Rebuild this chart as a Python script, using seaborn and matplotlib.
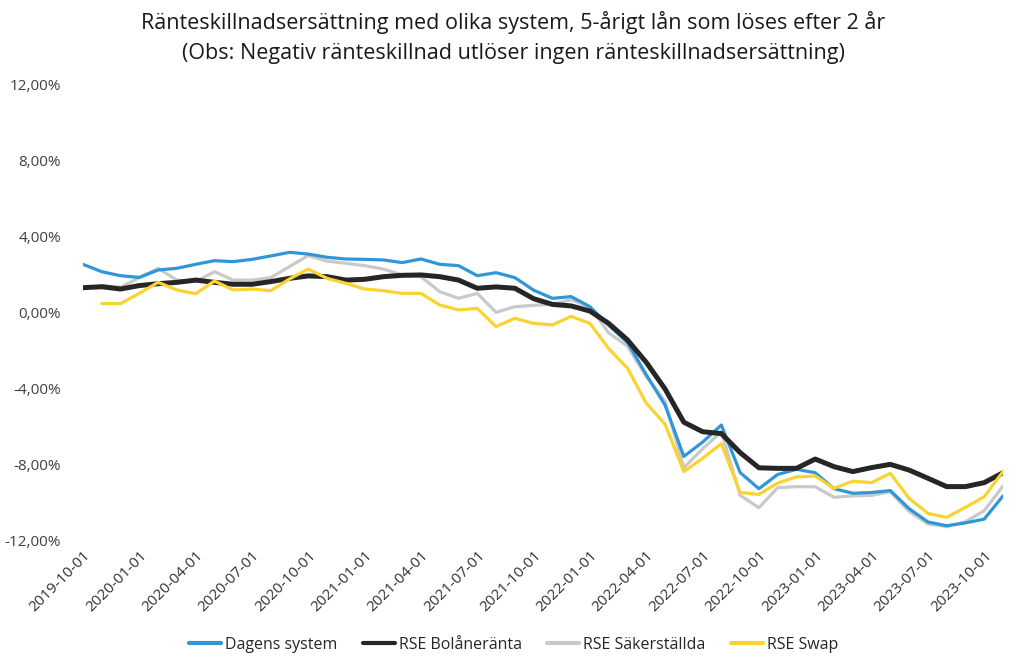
import numpy as np
import pandas as pd
import matplotlib
matplotlib.use("Agg")
import matplotlib.pyplot as plt
import seaborn as sns

# ---- data (monthly, 2019-10 .. 2023-11) ----
months = pd.date_range("2019-10-01", "2023-11-01", freq="MS").strftime("%Y-%m-%d").tolist()

dagens = [2.51, 2.12, 1.91, 1.82, 2.21, 2.30, 2.51, 2.70, 2.65, 2.77,
          2.95, 3.14, 3.05, 2.88, 2.79, 2.77, 2.74, 2.60, 2.79, 2.51,
          2.44, 1.91, 2.07, 1.81, 1.15, 0.72, 0.81, 0.28, -0.70, -1.60,
          -3.30, -4.90, -7.60, -6.85, -5.95, -8.45, -9.30, -8.55, -8.28, -8.46,
          -9.30, -9.54, -9.50, -9.40, -10.35, -11.05, -11.25, -11.10, -10.90, -9.68]

bolan = [1.28, 1.33, 1.21, 1.39, 1.49, 1.56, 1.68, 1.56, 1.46, 1.46,
         1.60, 1.77, 1.90, 1.86, 1.68, 1.72, 1.86, 1.93, 1.95, 1.86,
         1.68, 1.25, 1.32, 1.25, 0.70, 0.40, 0.32, 0.05, -0.60, -1.47,
         -2.65, -4.05, -5.80, -6.30, -6.40, -7.40, -8.20, -8.23, -8.23, -7.74,
         -8.14, -8.40, -8.19, -8.02, -8.32, -8.75, -9.19, -9.19, -8.98, -8.46]

sakerst = [np.nan, 1.39, 1.30, 1.81, 2.30, 1.68, 1.60, 2.12, 1.68, 1.68,
           1.81, 2.39, 2.97, 2.68, 2.56, 2.44, 2.26, 1.95, 1.86, 1.07,
           0.72, 0.98, -0.02, 0.28, 0.35, 0.40, 0.65, 0.25, -1.10, -1.80,
           -3.40, -4.70, -8.20, -7.20, -6.30, -9.65, -10.30, -9.25, -9.19, -9.20,
           -9.75, -9.68, -9.65, -9.46, -10.50, -11.15, -11.30, -11.04, -10.46, -9.16]

swap = [np.nan, 0.44, 0.44, 0.98, 1.56, 1.16, 0.96, 1.63, 1.16, 1.21,
        1.12, 1.74, 2.26, 1.77, 1.51, 1.21, 1.12, 0.98, 0.98, 0.37,
        0.11, 0.19, -0.77, -0.33, -0.60, -0.68, -0.23, -0.60, -1.93, -2.96,
        -4.80, -5.90, -8.40, -7.70, -6.93, -9.50, -9.60, -9.00, -8.68, -8.63,
        -9.28, -8.90, -8.98, -8.49, -9.81, -10.60, -10.81, -10.28, -9.72, -8.40]

series_names = ["Dagens system", "RSE Bolåneränta", "RSE Säkerställda", "RSE Swap"]
colors = ["#2F97D8", "#262626", "#C9C9C9", "#FAD331"]
widths = [2.3, 3.6, 2.3, 2.3]
zorders = [3, 4, 2, 5]
tick_labels = months[0:49:3]

title1 = "Ränteskillnadsersättning med olika system, 5-årigt lån som löses efter 2 år"
title2 = "(Obs: Negativ ränteskillnad utlöser ingen ränteskillnadsersättning)"

# ---- plot ----
sns.set_style("white")
plt.rcParams["font.family"] = ["Open Sans", "DejaVu Sans"]

fig = plt.figure(figsize=(10.17, 6.61), dpi=100)
ax = fig.add_axes([83 / 1017, 121 / 661, 920 / 1017, 456 / 661])

idx = np.arange(len(months))
for name, vals, col, lw, zo in zip(series_names, [dagens, bolan, sakerst, swap], colors, widths, zorders):
    df = pd.DataFrame({"x": idx, "y": np.array(vals, dtype=float) / 100.0})
    df = df.dropna()
    sns.lineplot(data=df, x="x", y="y", ax=ax, color=col, linewidth=lw,
                 label=name, zorder=zo, legend=False)

ax.set_xlim(0, len(months) - 1)
ax.set_ylim(-0.12, 0.12)
yt = np.arange(-0.12, 0.1201, 0.04)
ax.set_yticks(yt)
ax.set_yticklabels([f"{v*100:.2f}".replace(".", ",") + "%" for v in yt],
                   fontsize=11, color="#404040")
ax.set_xticks(idx[0:49:3])
ax.set_xticklabels(tick_labels, rotation=45, ha="right", rotation_mode="anchor",
                   fontsize=11, color="#303030")
ax.tick_params(axis="y", length=0, pad=16)
ax.tick_params(axis="x", length=0, pad=6)
ax.set_xlabel("")
ax.set_ylabel("")
for s in ax.spines.values():
    s.set_visible(False)
ax.grid(False)

fig.text(0.505, 1 - 23 / 661, title1, ha="center", va="center", fontsize=15.5, color="#1a1a1a")
fig.text(0.505, 1 - 53 / 661, title2, ha="center", va="center", fontsize=15.5, color="#1a1a1a")

handles = [plt.Line2D([0], [0], color=c, lw=3) for c in colors]
fig.legend(handles, series_names, loc="center", bbox_to_anchor=(0.505, 1 - 645 / 661),
           ncol=4, frameon=False, fontsize=11.5, handlelength=2.0, handletextpad=0.25,
           columnspacing=1.6)

fig.savefig("out.png", dpi=100)
